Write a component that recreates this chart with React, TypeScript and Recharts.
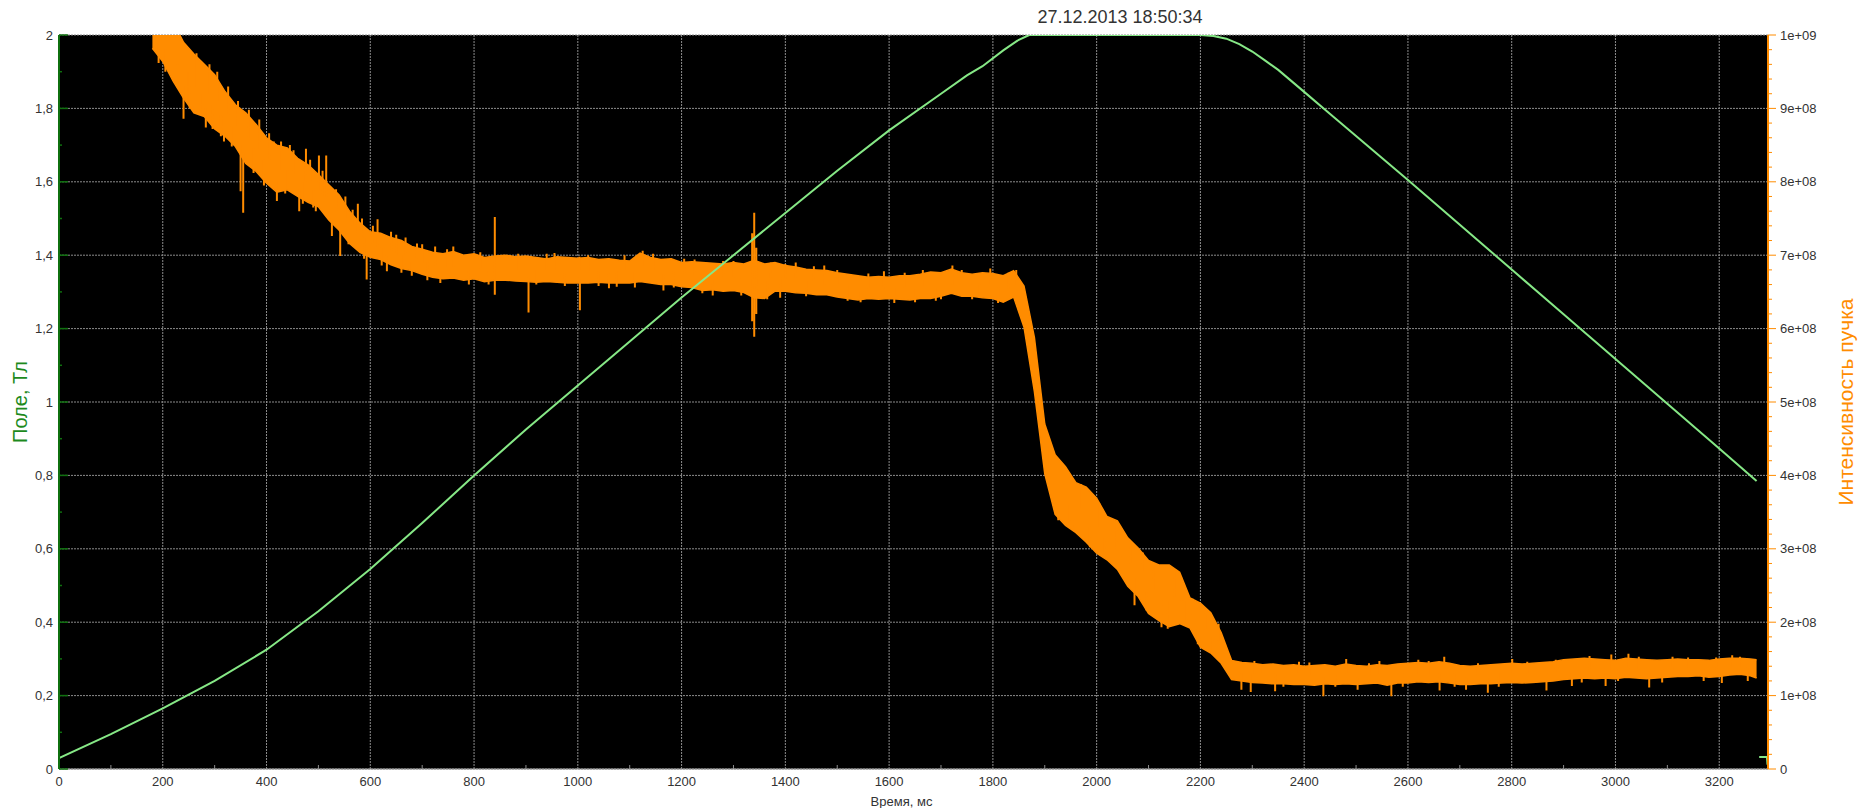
import React from 'react';
import { ComposedChart, Area, Line, XAxis, YAxis, CartesianGrid, Label } from 'recharts';

const FONT = '"Liberation Sans", Arial, sans-serif';
const GRID = '#8c8c8c';
const ORANGE = '#ff8c00';
const FIELD_GREEN = '#86e886';
const AXIS_GREEN = '#0f700f';
const LABEL_GREEN = '#1d8a1d';
const TEXT = '#333';

const chartTitle = '27.12.2013 18:50:34';
const X_MAX = 3294;

// tick labels
const timeTicks = [0, 200, 400, 600, 800, 1000, 1200, 1400, 1600, 1800, 2000, 2200, 2400, 2600, 2800, 3000, 3200];
const fieldTicks = [0, 0.2, 0.4, 0.6, 0.8, 1, 1.2, 1.4, 1.6, 1.8, 2];
const beamTicks = [0, 1e8, 2e8, 3e8, 4e8, 5e8, 6e8, 7e8, 8e8, 9e8, 1e9];

// magnetic field, T
const fieldTime = [0, 100, 200, 300, 400, 500, 600, 700, 800, 900, 1000, 1100, 1200, 1300, 1400, 1500, 1600, 1700, 1750, 1780, 1820, 1850, 1870,
  2200, 2225, 2250, 2275, 2300, 2325, 2350, 2375, 2400, 2450, 2500, 2600, 2700, 2800, 2900, 3000, 3100, 3200, 3272,
  3276, 3277, 3292, 3293];
const fieldTesla = [0.03, 0.095, 0.165, 0.24, 0.325, 0.43, 0.545, 0.67, 0.8, 0.925, 1.045, 1.165, 1.285, 1.4, 1.515, 1.63, 1.74, 1.84, 1.89, 1.915, 1.958, 1.987, 2.0,
  2.0, 1.997, 1.99, 1.975, 1.955, 1.93, 1.905, 1.875, 1.845, 1.785, 1.725, 1.605, 1.483, 1.361, 1.239, 1.117, 0.995, 0.873, 0.785,
  null, 0.033, 0.033, 0.012];

// beam intensity band (x1e8), sampled every 20 ms
const beamTime = [
  180, 200, 220, 240, 260, 280, 300, 320, 340, 360,
  380, 400, 420, 440, 460, 480, 500, 520, 540, 560,
  580, 600, 620, 640, 660, 680, 700, 720, 740, 760,
  780, 800, 820, 840, 860, 880, 900, 920, 940, 960,
  980, 1000, 1020, 1040, 1060, 1080, 1100, 1120, 1140, 1160,
  1180, 1200, 1220, 1240, 1260, 1280, 1300, 1320, 1340, 1360,
  1380, 1400, 1420, 1440, 1460, 1480, 1500, 1520, 1540, 1560,
  1580, 1600, 1620, 1640, 1660, 1680, 1700, 1720, 1740, 1760,
  1780, 1800, 1820, 1840, 1860, 1880, 1900, 1920, 1940, 1960,
  1980, 2000, 2020, 2040, 2060, 2080, 2100, 2120, 2140, 2160,
  2180, 2200, 2220, 2240, 2260, 2280, 2300, 2320, 2340, 2360,
  2380, 2400, 2420, 2440, 2460, 2480, 2500, 2520, 2540, 2560,
  2580, 2600, 2620, 2640, 2660, 2680, 2700, 2720, 2740, 2760,
  2780, 2800, 2820, 2840, 2860, 2880, 2900, 2920, 2940, 2960,
  2980, 3000, 3020, 3040, 3060, 3080, 3100, 3120, 3140, 3160,
  3180, 3200, 3220, 3240, 3260, 3272,
];
const beamHighE8 = [
  10.3, 10.3, 10.18, 9.9, 9.74, 9.6, 9.46, 9.23, 9.05, 8.94,
  8.78, 8.6, 8.5, 8.46, 8.32, 8.23, 8.1, 7.96, 7.82, 7.6,
  7.44, 7.32, 7.3, 7.24, 7.2, 7.12, 7.08, 7.04, 7.02, 7.05,
  7.0, 7.02, 6.97, 6.99, 7.0, 6.98, 6.99, 6.97, 6.95, 6.98,
  6.97, 6.96, 6.97, 6.94, 6.95, 6.93, 6.92, 7.03, 6.97, 6.94,
  6.95, 6.9, 6.91, 6.9, 6.89, 6.88, 6.9, 6.88, 6.93, 6.88,
  6.9, 6.86, 6.84, 6.81, 6.8, 6.79, 6.76, 6.74, 6.72, 6.7,
  6.71, 6.7, 6.72, 6.72, 6.74, 6.77, 6.76, 6.81, 6.76, 6.74,
  6.76, 6.75, 6.72, 6.79, 6.58, 5.88, 4.7, 4.28, 4.12, 3.9,
  3.84, 3.69, 3.44, 3.38, 3.15, 3.01, 2.84, 2.78, 2.78, 2.68,
  2.33, 2.26, 2.13, 1.86, 1.48, 1.45, 1.44, 1.42, 1.43, 1.41,
  1.42, 1.4, 1.41, 1.42, 1.4, 1.43, 1.41, 1.4, 1.42, 1.41,
  1.43, 1.44, 1.45, 1.44, 1.46, 1.44, 1.41, 1.4, 1.41, 1.42,
  1.43, 1.44, 1.43, 1.44, 1.45, 1.46, 1.49, 1.5, 1.51, 1.5,
  1.49, 1.48, 1.51, 1.5, 1.49, 1.48, 1.49, 1.5, 1.49, 1.49,
  1.48, 1.5, 1.51, 1.51, 1.5, 1.49,
];
const beamLowE8 = [
  9.82, 9.64, 9.37, 9.14, 8.94, 8.89, 8.72, 8.62, 8.48, 8.25,
  8.14, 7.98, 7.86, 7.89, 7.8, 7.72, 7.66, 7.48, 7.34, 7.16,
  7.04, 6.97, 6.94, 6.87, 6.82, 6.79, 6.74, 6.7, 6.68, 6.69,
  6.66, 6.68, 6.64, 6.66, 6.66, 6.65, 6.64, 6.63, 6.64, 6.63,
  6.62, 6.62, 6.62, 6.63, 6.62, 6.62, 6.62, 6.64, 6.62, 6.6,
  6.6, 6.57, 6.56, 6.52, 6.53, 6.51, 6.52, 6.49, 6.42, 6.41,
  6.51, 6.51, 6.49, 6.48, 6.46, 6.46, 6.43, 6.41, 6.39, 6.41,
  6.4, 6.41, 6.4, 6.39, 6.41, 6.41, 6.44, 6.48, 6.44, 6.44,
  6.42, 6.41, 6.36, 6.43, 6.02, 5.14, 4.02, 3.47, 3.32, 3.22,
  3.09, 2.94, 2.85, 2.72, 2.49, 2.35, 2.12, 2.02, 1.94, 1.98,
  1.92, 1.66, 1.58, 1.44, 1.22, 1.2, 1.18, 1.17, 1.16, 1.16,
  1.15, 1.15, 1.14, 1.16, 1.15, 1.16, 1.15, 1.16, 1.17, 1.14,
  1.17, 1.17, 1.19, 1.18, 1.19, 1.17, 1.15, 1.15, 1.16, 1.16,
  1.17, 1.18, 1.17, 1.18, 1.19, 1.2, 1.22, 1.23, 1.24, 1.23,
  1.24, 1.23, 1.25, 1.24, 1.23, 1.24, 1.25, 1.26, 1.26, 1.27,
  1.25, 1.26, 1.28, 1.29, 1.27, 1.24,
];

// single-sample spikes sticking out of the band: [time ms, base x1e8, tip x1e8]
const beamSpikes: [number, number, number][] = [
  [192, 9.9, 9.62], [205, 9.8, 9.5], [228, 9.6, 9.3], [240, 9.3, 8.86], [246, 9.5, 9.1], [252, 9.5, 9.0],
  [265, 9.3, 9.75], [272, 9.2, 8.92], [283, 9.0, 8.74], [290, 9.2, 9.6], [296, 9.05, 8.72], [305, 9.1, 9.5],
  [312, 8.9, 8.62], [318, 8.9, 8.55], [326, 8.9, 9.3], [333, 8.75, 8.48], [345, 8.75, 9.1], [350, 8.5, 7.87],
  [355, 8.4, 7.58], [366, 8.6, 8.98], [375, 8.45, 8.12], [386, 8.45, 8.85], [395, 8.3, 7.95], [405, 8.3, 8.66],
  [414, 8.2, 8.55], [420, 8.0, 7.74], [428, 8.15, 8.55], [436, 8.15, 7.84], [445, 8.15, 8.5], [452, 8.1, 8.43],
  [463, 7.9, 7.6], [470, 8.0, 7.7], [476, 8.0, 8.45], [484, 8.0, 8.3], [490, 7.9, 7.65], [495, 7.88, 7.6],
  [501, 7.9, 8.36], [508, 7.8, 8.15], [515, 7.8, 8.36], [526, 7.5, 7.26], [534, 7.6, 7.9], [542, 7.5, 6.99],
  [552, 7.5, 7.8], [558, 7.4, 7.15], [566, 7.4, 7.62], [576, 7.3, 7.7], [584, 7.25, 7.5], [588, 7.25, 6.95],
  [593, 7.1, 6.67], [605, 7.15, 7.4], [614, 7.1, 7.49], [622, 7.1, 6.86], [632, 7.0, 6.78], [640, 7.05, 7.32],
  [650, 7.0, 7.28], [660, 7.0, 6.76], [668, 7.0, 7.24], [680, 6.9, 6.72], [690, 6.95, 7.16], [700, 6.9, 7.15],
  [710, 6.9, 6.66], [725, 6.85, 7.12], [735, 6.85, 6.62], [748, 6.85, 7.08], [760, 6.85, 7.12], [790, 6.8, 6.6],
  [812, 6.82, 7.04], [828, 6.82, 6.6], [840, 6.46, 7.52], [870, 6.8, 7.0], [885, 6.8, 7.02], [905, 6.7, 6.22],
  [920, 6.8, 6.6], [940, 6.8, 7.02], [955, 6.8, 7.03], [975, 6.75, 6.58], [1003, 6.8, 6.98], [1004, 6.7, 6.25],
  [1020, 6.78, 7.0], [1040, 6.78, 6.58], [1060, 6.75, 6.55], [1075, 6.78, 6.57], [1090, 6.8, 7.0], [1110, 6.78, 6.56],
  [1125, 6.85, 7.06], [1145, 6.8, 7.02], [1165, 6.75, 6.52], [1185, 6.78, 6.56], [1205, 6.75, 6.95], [1225, 6.72, 6.94],
  [1240, 6.7, 6.48], [1260, 6.7, 6.45], [1280, 6.7, 6.92], [1300, 6.7, 6.92], [1315, 6.68, 6.45], [1336, 6.1, 7.3],
  [1340, 5.89, 7.58], [1344, 6.2, 7.1], [1365, 6.65, 6.4], [1372, 6.7, 6.9], [1390, 6.7, 6.42], [1400, 6.68, 6.88],
  [1420, 6.7, 6.9], [1440, 6.65, 6.44], [1455, 6.65, 6.85], [1475, 6.6, 6.86], [1500, 6.6, 6.8], [1520, 6.58, 6.38],
  [1545, 6.5, 6.36], [1560, 6.55, 6.75], [1590, 6.55, 6.78], [1610, 6.55, 6.35], [1630, 6.56, 6.76], [1650, 6.55, 6.36],
  [1665, 6.58, 6.8], [1690, 6.55, 6.38], [1700, 6.6, 6.4], [1722, 6.6, 6.86], [1740, 6.6, 6.8], [1760, 6.6, 6.4],
  [1775, 6.6, 6.42], [1795, 6.6, 6.82], [1810, 6.56, 6.35], [1830, 6.55, 6.76], [1845, 6.6, 6.8],
  [1910, 4.1, 4.4], [1926, 3.6, 3.39], [1935, 3.7, 4.15], [1948, 3.6, 3.35], [1957, 3.5, 3.25], [1970, 3.55, 3.88],
  [1987, 3.3, 3.02], [2005, 3.3, 3.62], [2015, 3.15, 2.9], [2038, 3.0, 3.32], [2050, 2.95, 2.7], [2065, 2.8, 3.1],
  [2073, 2.6, 2.23], [2089, 2.7, 2.95], [2096, 2.4, 2.16], [2110, 2.45, 2.78], [2125, 2.3, 1.93], [2137, 2.3, 1.91],
  [2150, 2.35, 2.68], [2163, 2.3, 2.61], [2170, 2.3, 2.0], [2185, 2.1, 2.32], [2195, 1.9, 1.7], [2210, 1.9, 2.12],
  [2223, 1.8, 1.62], [2235, 1.75, 1.98],
  [2279, 1.3, 1.08], [2297, 1.3, 1.05], [2304, 1.3, 1.47], [2320, 1.3, 1.43], [2344, 1.3, 1.06], [2360, 1.28, 1.12],
  [2390, 1.3, 1.46], [2410, 1.28, 1.45], [2437, 1.25, 0.99], [2460, 1.28, 1.12], [2481, 1.3, 1.5], [2503, 1.25, 1.08],
  [2525, 1.28, 1.44], [2545, 1.3, 1.47], [2568, 1.25, 0.99], [2590, 1.3, 1.12], [2620, 1.3, 1.49], [2640, 1.3, 1.47],
  [2661, 1.3, 1.07], [2670, 1.3, 1.53], [2690, 1.3, 1.12], [2712, 1.25, 1.08], [2735, 1.28, 1.44], [2754, 1.25, 1.04],
  [2775, 1.3, 1.12], [2801, 1.3, 1.5], [2830, 1.3, 1.46], [2867, 1.3, 1.07], [2885, 1.32, 1.49], [2916, 1.3, 1.13],
  [2935, 1.35, 1.18], [2950, 1.35, 1.54], [2981, 1.3, 1.13], [2992, 1.35, 1.56], [3005, 1.36, 1.2], [3025, 1.35, 1.57],
  [3045, 1.36, 1.53], [3065, 1.3, 1.11], [3090, 1.36, 1.18], [3110, 1.35, 1.53], [3140, 1.37, 1.52], [3170, 1.37, 1.2],
  [3194, 1.35, 1.52], [3205, 1.3, 1.17], [3225, 1.39, 1.55], [3240, 1.35, 1.53], [3255, 1.38, 1.2],
];

function withMinor(majors: number[], parts: number) {
  const out: number[] = [];
  majors.forEach((m, i) => {
    out.push(m);
    const next = majors[i + 1];
    if (next === undefined) return;
    for (let k = 1; k < parts; k++) out.push(m + ((next - m) * k) / parts);
  });
  return out;
}

const isMajor = (v: number, majors: number[]) =>
  majors.some((m) => Math.abs(m - v) <= 1e-6 * Math.max(1, Math.abs(m)));

const fmtField = (v: number) => String(v).replace('.', ',');
const fmtBeam = (v: number) => {
  if (v === 0) return '0';
  const e = Math.floor(Math.log10(v) + 1e-9);
  const m = Math.round(v / Math.pow(10, e));
  return `${m}e+${String(e).padStart(2, '0')}`;
};

const bandData = beamTime.map((t, i) => ({ t, band: [beamLowE8[i] * 1e8, beamHighE8[i] * 1e8] }));
const fieldData = fieldTime.map((t, i) => ({ t, field: fieldTesla[i] }));
const spikeData = beamSpikes.flatMap(([t, base, tip]) => [
  { t, spike: base * 1e8 },
  { t, spike: tip * 1e8 },
  { t, spike: null },
]);

const xTicksAll = withMinor(timeTicks, 2);
const xMinorTicks = xTicksAll.filter((v) => !isMajor(v, timeTicks));
const fieldTicksAll = withMinor(fieldTicks, 2);
const beamTicksAll = withMinor(beamTicks, 5);

function TimeTick({ x, y, payload }: any) {
  const major = isMajor(payload.value, timeTicks);
  return (
    <g>
      {!major && <line x1={x} x2={x} y1={y} y2={y - 4} stroke={GRID} />}
      {major && (
        <text x={x} y={y + 17} textAnchor="middle" fontSize={13} fill={TEXT} fontFamily={FONT}>
          {payload.value}
        </text>
      )}
    </g>
  );
}

function TopTick({ x, y }: any) {
  return <line x1={x} x2={x} y1={y} y2={y + 3} stroke={GRID} />;
}

function FieldTick({ x, y, payload }: any) {
  const major = isMajor(payload.value, fieldTicks);
  return (
    <g>
      <line x1={x} x2={x + (major ? 9 : 3)} y1={y} y2={y} stroke={AXIS_GREEN} strokeWidth={1.5} />
      {major && (
        <text x={x - 6} y={y} dy="0.36em" textAnchor="end" fontSize={13} fill={TEXT} fontFamily={FONT}>
          {fmtField(payload.value)}
        </text>
      )}
    </g>
  );
}

function BeamTick({ x, y, payload }: any) {
  const major = isMajor(payload.value, beamTicks);
  return (
    <g>
      <line x1={x} x2={x + (major ? 8 : 4)} y1={y} y2={y} stroke={ORANGE} />
      {major && (
        <text x={x + 12} y={y} dy="0.36em" textAnchor="start" fontSize={13} fill={TEXT} fontFamily={FONT}>
          {fmtBeam(payload.value)}
        </text>
      )}
    </g>
  );
}

function FieldTitle({ viewBox }: any) {
  const cx = viewBox.x + 20;
  const cy = viewBox.y + viewBox.height / 2;
  return (
    <text x={cx} y={cy} transform={`rotate(-90 ${cx} ${cy})`} textAnchor="middle" dominantBaseline="central"
      fontSize={20} fill={LABEL_GREEN} fontFamily={FONT}>
      Поле, Тл
    </text>
  );
}

function BeamTitle({ viewBox }: any) {
  const cx = viewBox.x + 77;
  const cy = viewBox.y + viewBox.height / 2;
  return (
    <text x={cx} y={cy} transform={`rotate(-90 ${cx} ${cy})`} textAnchor="middle" dominantBaseline="central"
      fontSize={21} fill={ORANGE} fontFamily={FONT}>
      Интенсивность пучка
    </text>
  );
}

function TimeTitle({ viewBox }: any) {
  return (
    <text x={viewBox.x + viewBox.width / 2 - 12} y={viewBox.y + 32} textAnchor="middle" dominantBaseline="central"
      fontSize={13} fill={TEXT} fontFamily={FONT}>
      Время, мс
    </text>
  );
}

export default function App() {
  return (
    <div style={{ position: 'absolute', left: 0, top: 0, width: 1858, height: 808, background: '#fff' }}>
      <div
        style={{
          position: 'absolute', left: 1120, top: 6, transform: 'translateX(-50%)',
          fontFamily: FONT, fontSize: 18, lineHeight: '22px', color: TEXT, whiteSpace: 'nowrap',
        }}
      >
        {chartTitle}
      </div>
      <ComposedChart width={1858} height={808} data={bandData} margin={{ top: 35, right: 0, bottom: 0, left: 0 }}>
        <CartesianGrid
          fill="#000"
          fillOpacity={1}
          stroke={GRID}
          strokeDasharray="2 1"
          horizontalValues={fieldTicks}
          verticalValues={timeTicks}
        />
        <XAxis
          dataKey="t"
          type="number"
          domain={[0, X_MAX]}
          allowDataOverflow
          ticks={xTicksAll}
          interval={0}
          height={39}
          tickSize={0}
          tickMargin={0}
          tickLine={false}
          axisLine={{ stroke: '#9a9a9a' }}
          tick={<TimeTick />}
        >
          <Label content={<TimeTitle />} />
        </XAxis>
        <XAxis
          xAxisId="top"
          orientation="top"
          dataKey="t"
          type="number"
          domain={[0, X_MAX]}
          allowDataOverflow
          ticks={xMinorTicks}
          interval={0}
          height={0}
          tickSize={0}
          tickMargin={0}
          tickLine={false}
          axisLine={false}
          tick={<TopTick />}
        />
        <YAxis
          type="number"
          domain={[0, 2]}
          allowDataOverflow
          ticks={fieldTicksAll}
          interval={0}
          width={59}
          tickSize={0}
          tickMargin={0}
          tickLine={false}
          axisLine={{ stroke: AXIS_GREEN, strokeWidth: 2 }}
          tick={<FieldTick />}
        >
          <Label content={<FieldTitle />} />
        </YAxis>
        <YAxis
          yAxisId="right"
          orientation="right"
          type="number"
          domain={[0, 1e9]}
          allowDataOverflow
          ticks={beamTicksAll}
          interval={0}
          width={90}
          tickSize={0}
          tickMargin={0}
          tickLine={false}
          axisLine={{ stroke: ORANGE, strokeWidth: 2 }}
          tick={<BeamTick />}
        >
          <Label content={<BeamTitle />} />
        </YAxis>
        <Area
          yAxisId="right"
          dataKey="band"
          type="linear"
          stroke={ORANGE}
          strokeWidth={1.5}
          fill={ORANGE}
          fillOpacity={1}
          dot={false}
          activeDot={false}
          isAnimationActive={false}
        />
        <Line
          yAxisId="right"
          data={spikeData}
          dataKey="spike"
          type="linear"
          stroke={ORANGE}
          strokeWidth={2}
          dot={false}
          activeDot={false}
          connectNulls={false}
          isAnimationActive={false}
        />
        <Line
          data={fieldData}
          dataKey="field"
          type="linear"
          stroke={FIELD_GREEN}
          strokeWidth={2}
          dot={false}
          activeDot={false}
          connectNulls={false}
          isAnimationActive={false}
        />
      </ComposedChart>
    </div>
  );
}
